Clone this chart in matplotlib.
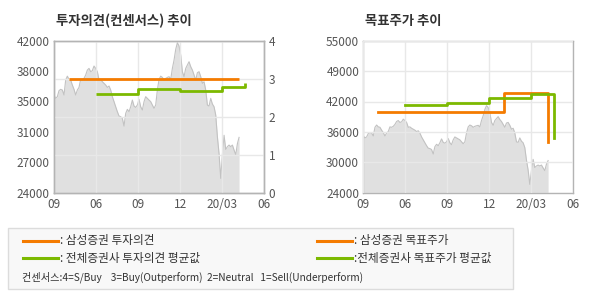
import numpy as np
import matplotlib
matplotlib.use("Agg")
import matplotlib.pyplot as plt
from matplotlib.patches import Rectangle
from matplotlib.lines import Line2D

plt.rcParams['font.family'] = ['Noto Sans CJK KR', 'DejaVu Sans']

# ---------------- data ----------------
# x axis in months from the first tick
x_ticks = [0, 3, 6, 9, 12, 15]
x_labels = ["09", "06", "09", "12", "20/03", "06"]

price_start, price_end = 0.0, 13.2
price = [35570, 35170, 35370, 36080, 36240, 36160, 35570, 37340, 37800, 37420,
         37340, 36750, 36240, 35570, 36160, 36470, 37420, 37340, 37540, 37930,
         38520, 38720, 38330, 38450, 39000, 38720, 38330, 37340, 37420, 37140,
         36950, 36750, 36470, 36630, 36160, 35370, 34780, 34180, 33590, 33080,
         33000, 32800, 31890, 33390, 33870, 33590, 34180, 34970, 34260, 34100,
         34380, 35050, 34180, 33790, 34780, 35370, 35170, 34970, 34780, 34380,
         33990, 34380, 36160, 37420, 37800, 37650, 37340, 37540, 37650, 37740,
         37420, 38720, 39700, 40970, 41760, 41370, 40300, 38330, 37740, 38720,
         39120, 39510, 38920, 38520, 37930, 37340, 38210, 38330, 37740, 36950,
         37140, 36160, 34380, 34260, 35170, 34500, 34180, 33200, 30630, 28600,
         25700, 28500, 30800, 29130, 29450, 29640, 29450, 29640, 29050, 28500,
         29800, 30550]

# 투자의견 (opinion, right axis 0-4)
own_op_x = [1.07, 13.17]
own_op_y = [3.0, 3.0]
avg_op_x = [3.0, 6.0, 9.0, 12.0, 13.62]
avg_op_y = [2.6, 2.72, 2.68, 2.79, 2.88]

# 목표주가 (target price)
own_tp_x = [1.07, 10.07, 13.17]
own_tp_y = [40500, 44300, 34300]
avg_tp_x = [3.0, 6.0, 9.0, 12.0, 13.62]
avg_tp_y = [41900, 42300, 43400, 44200, 35100]

left_ylim = (24000, 42000)
left_ylabels = ["24000", "27000", "31000", "35000", "38000", "42000"]
right_axis_ticks = [0, 1, 2, 3, 4]
tp_ylim = (24000, 55000)
tp_ylabels = ["24000", "30000", "36000", "42000", "49000", "55000"]

ORANGE = '#f47b00'
GREEN = '#7cb900'
FILL = '#e0e0e0'
PLINE = '#c2c2c2'
GRID = '#e8e8e8'
SPINE = '#b4b4b4'
TXT = '#555555'

# ---------------- figure ----------------
fig = plt.figure(figsize=(5.9, 3.0), dpi=100)
px = np.linspace(price_start, price_end, len(price))


def style_axes(ax):
    for s in ax.spines.values():
        s.set_color(SPINE)
        s.set_linewidth(1)
    ax.tick_params(length=0, labelsize=8.5, colors=TXT, pad=3)
    ax.set_xlim(0, 15)
    ax.set_xticks(x_ticks)
    ax.set_xticklabels(x_labels)


# left chart
ax1 = fig.add_axes([54 / 590, 107.3 / 300, 210.3 / 590, 152 / 300])
ax1.fill_between(px, price, left_ylim[0], color=FILL, lw=0, zorder=1)
ax1.plot(px, price, color=PLINE, lw=0.8, zorder=1.2)
ax1.set_ylim(*left_ylim)
ax1.set_yticks(np.linspace(left_ylim[0], left_ylim[1], len(left_ylabels)))
ax1.set_yticklabels(left_ylabels)
style_axes(ax1)
ax1.set_axisbelow(False)
ax1.grid(axis='x', color=GRID, lw=1)
ax1.tick_params(axis='x', pad=4)

ax1b = ax1.twinx()
ax1b.set_ylim(0, 4)
ax1b.set_yticks(right_axis_ticks)
style_axes(ax1b)
ax1b.grid(axis='y', color=GRID, lw=1)
ax1b.plot(own_op_x, own_op_y, color=ORANGE, lw=2, solid_capstyle='butt')
ax1b.step(avg_op_x, avg_op_y, where='post', color=GREEN, lw=2, solid_capstyle='butt')
ax1.set_title("투자의견(컨센서스) 추이", loc='left', fontsize=9.6, fontweight='bold',
              color='#333333', x=0.01, pad=11)

# right chart
ax2 = fig.add_axes([363.3 / 590, 107.3 / 300, 210 / 590, 152 / 300])
ax2.fill_between(px, price, tp_ylim[0], color=FILL, lw=0, zorder=1)
ax2.plot(px, price, color=PLINE, lw=0.8, zorder=1.2)
ax2.set_ylim(*tp_ylim)
ax2.set_yticks(np.linspace(tp_ylim[0], tp_ylim[1], len(tp_ylabels)))
ax2.set_yticklabels(tp_ylabels)
style_axes(ax2)
ax2.set_axisbelow(False)
ax2.grid(color=GRID, lw=1)
ax2.tick_params(axis='x', pad=4)
ax2.step(own_tp_x, own_tp_y, where='post', color=ORANGE, lw=2, zorder=3)
ax2.step(avg_tp_x, avg_tp_y, where='post', color=GREEN, lw=2, zorder=3)
ax2.set_title("목표주가 추이", loc='left', fontsize=9.6, fontweight='bold',
              color='#333333', x=0.01, pad=11)

# ---------------- legend box ----------------
W, H = 590, 300
fig.patches.append(Rectangle((7.5 / W, (H - 289) / H), 505.5 / W, 61 / H,
                             transform=fig.transFigure, facecolor='#f8f8f8',
                             edgecolor='#dcdcdc', lw=1))
legend_items = [
    (22.7, 240.7, ORANGE, ": 삼성증권 투자의견"),
    (22.7, 258.3, GREEN, ": 전체증권사 투자의견 평균값"),
    (316.7, 240.7, ORANGE, ": 삼성증권 목표주가"),
    (316.7, 258.3, GREEN, ":전체증권사 목표주가 평균값"),
]
for x0, y0, c, label in legend_items:
    fig.lines.append(Line2D([x0 / W, (x0 + 35.5) / W], [(H - y0) / H] * 2,
                            transform=fig.transFigure, color=c, lw=2.2))
    fig.text((x0 + 37) / W, (H - y0) / H, label, fontsize=8.4, color='#333333',
             va='center', ha='left')
fig.text(21.7 / W, (H - 277.3) / H,
         "컨센서스:4=S/Buy    3=Buy(Outperform)  2=Neutral   1=Sell(Underperform)",
         fontsize=7.3, color='#333333', va='center', ha='left')

fig.savefig("out.png", dpi=100)
